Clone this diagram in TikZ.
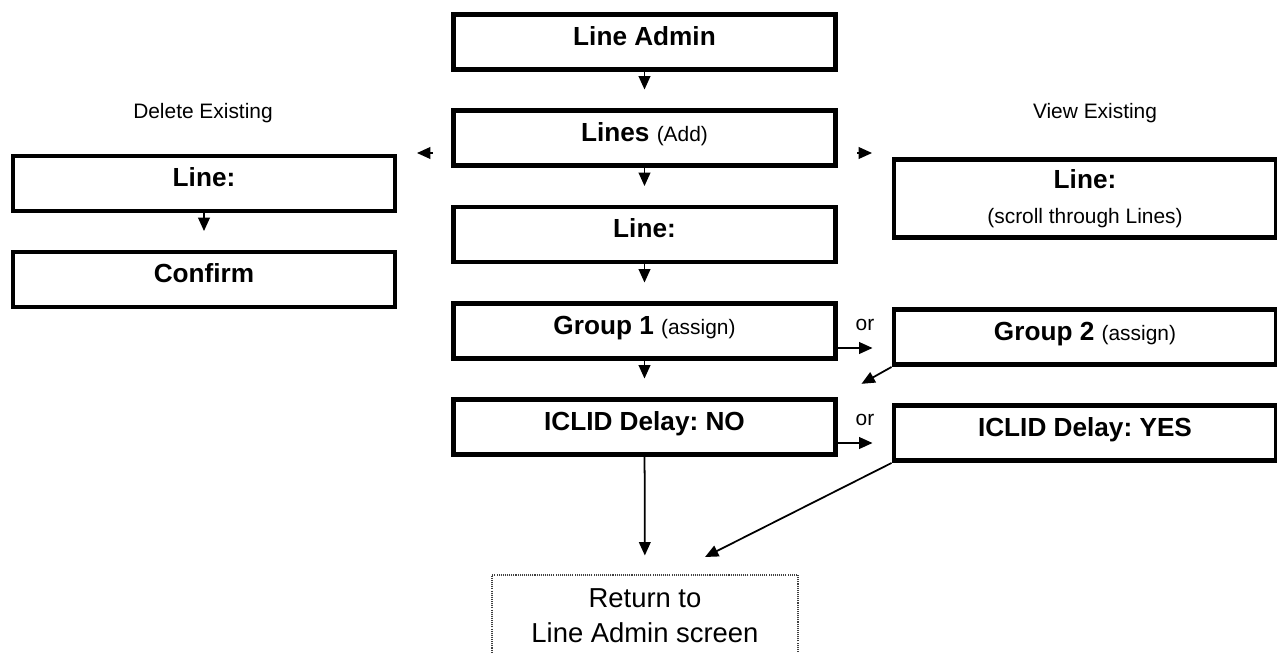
\documentclass[tikz,border=0pt]{standalone}
\usepackage{fontspec}
\setmainfont{Liberation Sans}
\frenchspacing
\usetikzlibrary{arrows.meta,positioning,calc}
\newcommand{\aside}[1]{{\mdseries\fontsize{11.9}{14}\selectfont #1}}
\begin{document}
\begin{tikzpicture}[>=Triangle,
  scr/.style={draw,line width=2.8pt,minimum width=7.64cm,minimum height=1.1cm,
    inner sep=0pt,text height=0.4cm,text depth=0.28cm,
    font=\fontsize{14.9}{18}\selectfont\bfseries},
  a/.style={-{Triangle[length=7.6pt,width=6.6pt]},line width=1pt,shorten >=0.37cm},
  lbl/.style={font=\fontsize{11.9}{14}\selectfont,inner sep=0pt}]
\useasboundingbox (0,0) rectangle (25.54,-13.04);
% main column
\node[scr] (admin) at (12.89,-0.84) {Line Admin};
\node[scr] (lines) at (12.89,-2.76) {Lines \aside{(Add)}};
\node[scr] (addline) at (12.89,-4.69) {Line:};
\node[scr] (group1) at (12.89,-6.62) {Group 1 \aside{(assign)}};
\node[scr] (iclidno) at (12.89,-8.54) {ICLID Delay: NO};
% delete and view branches
\node[lbl] (dellbl) at (4.06,-2.26) {Delete Existing};
\node[scr] (delline) at (4.08,-3.67) {Line:};
\node[scr] (confirm) at (4.08,-5.59) {Confirm};
\node[lbl] (viewlbl) at (21.9,-2.26) {View Existing};
\node[scr,minimum height=1.56cm,text height=,text depth=,align=center] (viewline) at (21.70,-3.97)
  {Line:\\[2pt]\aside{(scroll through Lines)}};
% alternatives
\node[scr] (group2) at (21.70,-6.74) {Group 2 \aside{(assign)}};
\node[scr] (iclidyes) at (21.70,-8.66) {ICLID Delay: YES};
\node[lbl] (or1) at (17.3,-6.5) {or};
\node[lbl] (or2) at (17.3,-8.4) {or};
\node[draw=black!75,line width=0.6pt,dash pattern=on 0.6pt off 0.6pt,minimum width=6.12cm,
  minimum height=1.62cm,align=center,font=\fontsize{15.6}{19.8}\selectfont] (ret) at (12.9,-12.31)
  {Return to\\Line Admin screen};
\coordinate (rettip) at (14.1,-11.14);
% connectors
\draw[a] (admin)--(lines); \draw[a] (lines)--(addline);
\draw[a] (addline)--(group1); \draw[a] (group1)--(iclidno);
\draw[a] (delline)--(confirm);
\draw[a,shorten <=0.37cm,shorten >=0.39cm] ([yshift=-0.3cm]lines.west)--([yshift=-0.3cm]lines.west -| delline.east);
\draw[a,shorten <=0.39cm,shorten >=0.39cm] ([yshift=-0.3cm]lines.east)--([yshift=-0.3cm]lines.east -| viewline.west);
\draw[a,shorten >=0.38cm] ([yshift=-0.34cm]group1.east)--([yshift=-0.34cm]group1.east -| group2.west);
\draw[a,shorten >=0.38cm] ([yshift=-0.32cm]iclidno.east)--([yshift=-0.32cm]iclidno.east -| iclidyes.west);
\draw[a,shorten >=0.54cm] (group2.south west)--(iclidno.north east);
\draw[a,shorten >=0.38cm] (iclidno)--(ret);
\draw[a,shorten >=0pt] (iclidyes.south west)--(rettip);
\end{tikzpicture}
\end{document}
